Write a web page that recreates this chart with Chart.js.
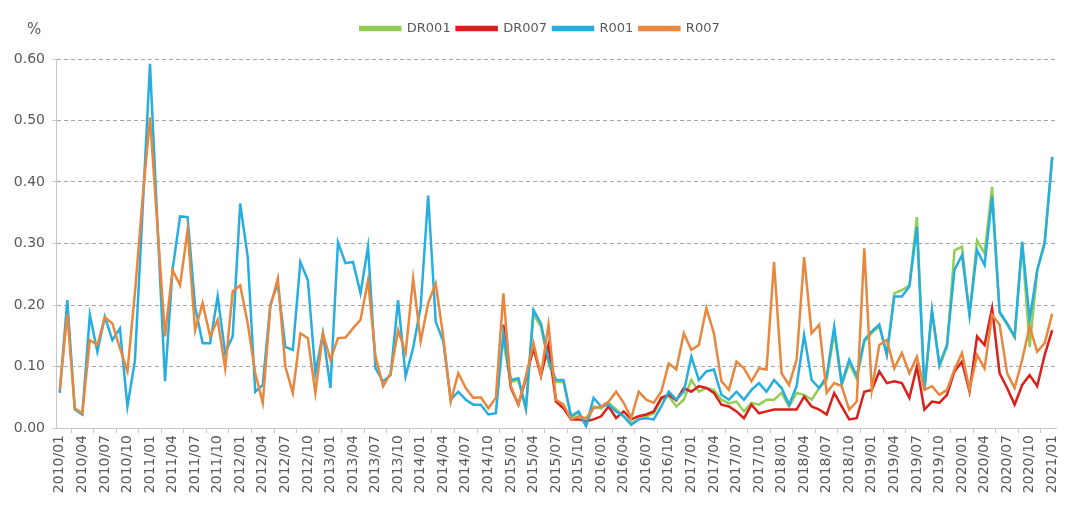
<!DOCTYPE html>
<html>
<head>
<meta charset="utf-8">
<script src="https://cdn.jsdelivr.net/npm/chart.js@4.4.1/dist/chart.umd.min.js"></script>
<style>
  body { margin: 0; background: #fff; }
  #wrap { width: 1080px; height: 509px; }
</style>
</head>
<body>
<div id="wrap"><canvas id="ratesChart"></canvas></div>
<script>
// monthly categories 2010/01 .. 2021/01
const years = [2010, 2011, 2012, 2013, 2014, 2015, 2016, 2017, 2018, 2019, 2020, 2021];
const months = ["01", "02", "03", "04", "05", "06", "07", "08", "09", "10", "11", "12"];
const categories = [];
years.forEach((y) => {
  months.forEach((m) => {
    if (y < 2021 || m === "01") categories.push(y + "/" + m);
  });
});

const yTicks = [0, 0.1, 0.2, 0.3, 0.4, 0.5, 0.6];

// DR series start 2014/12
const drPad = new Array(59).fill(null);

const r001 = [
  0.057, 0.208, 0.030, 0.022, 0.184, 0.124, 0.181, 0.143, 0.162, 0.035, 0.110, 0.350,
  0.592, 0.330, 0.076, 0.257, 0.344, 0.343, 0.197, 0.138, 0.138, 0.214, 0.122, 0.149,
  0.365, 0.278, 0.059, 0.070, 0.200, 0.235, 0.132, 0.127, 0.270, 0.240, 0.089, 0.154,
  0.065, 0.302, 0.268, 0.270, 0.219, 0.295, 0.097, 0.076, 0.086, 0.208, 0.084, 0.130,
  0.197, 0.378, 0.173, 0.141, 0.046, 0.059, 0.046, 0.038, 0.038, 0.022, 0.024, 0.154,
  0.078, 0.081, 0.032, 0.192, 0.170, 0.110, 0.078, 0.078, 0.019, 0.027, 0.003, 0.049,
  0.035, 0.038, 0.027, 0.019, 0.005, 0.014, 0.016, 0.014, 0.035, 0.059, 0.046, 0.059,
  0.116, 0.078, 0.092, 0.095, 0.054, 0.046, 0.059, 0.046, 0.062, 0.073, 0.059, 0.078,
  0.065, 0.038, 0.068, 0.151, 0.078, 0.065, 0.084, 0.165, 0.073, 0.111, 0.084, 0.143,
  0.157, 0.168, 0.119, 0.214, 0.214, 0.230, 0.327, 0.062, 0.192, 0.103, 0.135, 0.257,
  0.281, 0.184, 0.289, 0.265, 0.376, 0.189, 0.170, 0.149, 0.303, 0.176, 0.257, 0.300,
  0.441
];

const r007 = [
  0.062, 0.186, 0.032, 0.024, 0.143, 0.135, 0.180, 0.170, 0.130, 0.092, 0.220, 0.370,
  0.505, 0.327, 0.149, 0.257, 0.232, 0.322, 0.159, 0.203, 0.149, 0.176, 0.097, 0.222,
  0.232, 0.170, 0.089, 0.041, 0.197, 0.243, 0.100, 0.057, 0.154, 0.146, 0.057, 0.154,
  0.111, 0.146, 0.147, 0.162, 0.176, 0.240, 0.116, 0.068, 0.089, 0.159, 0.122, 0.243,
  0.141, 0.203, 0.235, 0.149, 0.043, 0.089, 0.065, 0.049, 0.050, 0.032, 0.049, 0.219,
  0.068, 0.038, 0.084, 0.138, 0.086, 0.168, 0.046, 0.038, 0.014, 0.019, 0.016, 0.032,
  0.035, 0.043, 0.059, 0.041, 0.016, 0.059, 0.046, 0.041, 0.059, 0.105, 0.095, 0.154,
  0.127, 0.135, 0.195, 0.154, 0.076, 0.062, 0.108, 0.097, 0.076, 0.097, 0.095, 0.270,
  0.089, 0.070, 0.111, 0.278, 0.154, 0.168, 0.057, 0.073, 0.068, 0.030, 0.043, 0.292,
  0.062, 0.135, 0.143, 0.097, 0.122, 0.089, 0.116, 0.062, 0.068, 0.054, 0.062, 0.095,
  0.122, 0.062, 0.119, 0.097, 0.184, 0.168, 0.089, 0.065, 0.111, 0.165, 0.124, 0.138,
  0.186
];

const dr007 = drPad.concat([
  0.168, 0.065, 0.038, 0.080, 0.130, 0.085, 0.135, 0.043, 0.032, 0.014, 0.014, 0.011,
  0.014, 0.019, 0.035, 0.016, 0.027, 0.014, 0.019, 0.022, 0.027, 0.049, 0.054, 0.045,
  0.065, 0.059, 0.068, 0.065, 0.057, 0.038, 0.035, 0.027, 0.016, 0.038, 0.024, 0.027,
  0.030, 0.030, 0.030, 0.030, 0.051, 0.035, 0.030, 0.022, 0.057, 0.035, 0.014, 0.016,
  0.059, 0.062, 0.092, 0.073, 0.076, 0.073, 0.049, 0.100, 0.030, 0.043, 0.041, 0.054,
  0.092, 0.108, 0.059, 0.149, 0.135, 0.195, 0.089, 0.065, 0.038, 0.070, 0.086, 0.068,
  0.119, 0.159
]);

const dr001 = drPad.concat([
  0.140, 0.075, 0.078, 0.030, 0.185, 0.165, 0.105, 0.075, 0.075, 0.018, 0.025, 0.004,
  0.035, 0.032, 0.041, 0.030, 0.019, 0.008, 0.014, 0.019, 0.024, 0.046, 0.052, 0.035,
  0.046, 0.078, 0.059, 0.065, 0.062, 0.046, 0.040, 0.043, 0.027, 0.041, 0.038, 0.046,
  0.046, 0.057, 0.035, 0.057, 0.054, 0.046, 0.065, 0.078, 0.155, 0.070, 0.105, 0.080,
  0.140, 0.155, 0.165, 0.120, 0.219, 0.224, 0.232, 0.343, 0.062, 0.190, 0.100, 0.132,
  0.289, 0.295, 0.184, 0.305, 0.284, 0.392, 0.187, 0.168, 0.147, 0.300, 0.132, 0.255,
  0.305, 0.441
]);

const textColor = "#595959";
const font = "'DejaVu Sans', sans-serif";

const percentLabel = {
  id: "percentLabel",
  afterDraw(chart) {
    const ctx = chart.ctx;
    ctx.save();
    ctx.fillStyle = textColor;
    ctx.font = "15px " + font;
    ctx.textBaseline = "middle";
    ctx.fillText("%", 27, 30);
    ctx.restore();
  },
};

// extra room under the legend, and centre it on the whole canvas
const legendSpacer = {
  id: "legendSpacer",
  beforeInit(chart) {
    const fit = chart.legend.fit;
    chart.legend.fit = function () {
      fit.bind(chart.legend)();
      this.height += 14;
    };
  },
  afterUpdate(chart) {
    chart.legend.left = 0;
    chart.legend.right = chart.width;
    chart.legend.adjustHitBoxes();
  },
};

function line(label, data, color, order) {
  return {
    label: label,
    data: data,
    borderColor: color,
    backgroundColor: color,
    borderWidth: 2.5,
    pointRadius: 0,
    tension: 0,
    order: order,
  };
}

window.onload = () => {
  const ctx = document.getElementById("ratesChart");
  new Chart(ctx, {
    type: "line",
    data: {
      labels: categories,
      datasets: [
        line("DR001", dr001, "#92cd55", 4),
        line("DR007", dr007, "#dc1f1a", 3),
        line("R001", r001, "#27aee0", 2),
        line("R007", r007, "#e8873e", 1),
      ],
    },
    options: {
      responsive: true,
      maintainAspectRatio: false,
      animation: false,
      layout: { padding: { top: 16, right: 24, left: 0, bottom: 0 } },
      plugins: {
        legend: {
          position: "top",
          labels: {
            boxWidth: 40,
            boxHeight: 3,
            padding: 6,
            color: textColor,
            font: { family: font, size: 13 },
            sort: (a, b) => a.datasetIndex - b.datasetIndex,
          },
        },
        tooltip: { enabled: false },
      },
      scales: {
        x: {
          type: "category",
          offset: true,
          grid: {
            offset: true,
            drawOnChartArea: false,
            drawTicks: true,
            tickLength: 5,
            tickColor: "#c8c8c8",
          },
          border: { color: "#c8c8c8" },
          ticks: {
            autoSkip: false,
            minRotation: 90,
            maxRotation: 90,
            padding: 2,
            color: textColor,
            font: { family: font, size: 14 },
            callback: (v, i) => (i % 3 === 0 ? categories[i] : null),
          },
          afterFit: (scale) => {
            scale.height = 81;
          },
        },
        y: {
          min: 0,
          max: 0.6,
          afterBuildTicks: (scale) => {
            scale.ticks = yTicks.map((v) => ({ value: v }));
          },
          grid: {
            color: "#a6a6a6",
            tickColor: "#c8c8c8",
            tickLength: 4,
          },
          border: { color: "#c8c8c8", dash: [4, 3] },
          ticks: {
            padding: 7,
            color: textColor,
            font: { family: font, size: 14 },
            callback: (v) => v.toFixed(2),
          },
          afterFit: (scale) => {
            scale.width = 56;
          },
        },
      },
    },
    plugins: [percentLabel, legendSpacer],
  });
};
</script>
</body>
</html>
